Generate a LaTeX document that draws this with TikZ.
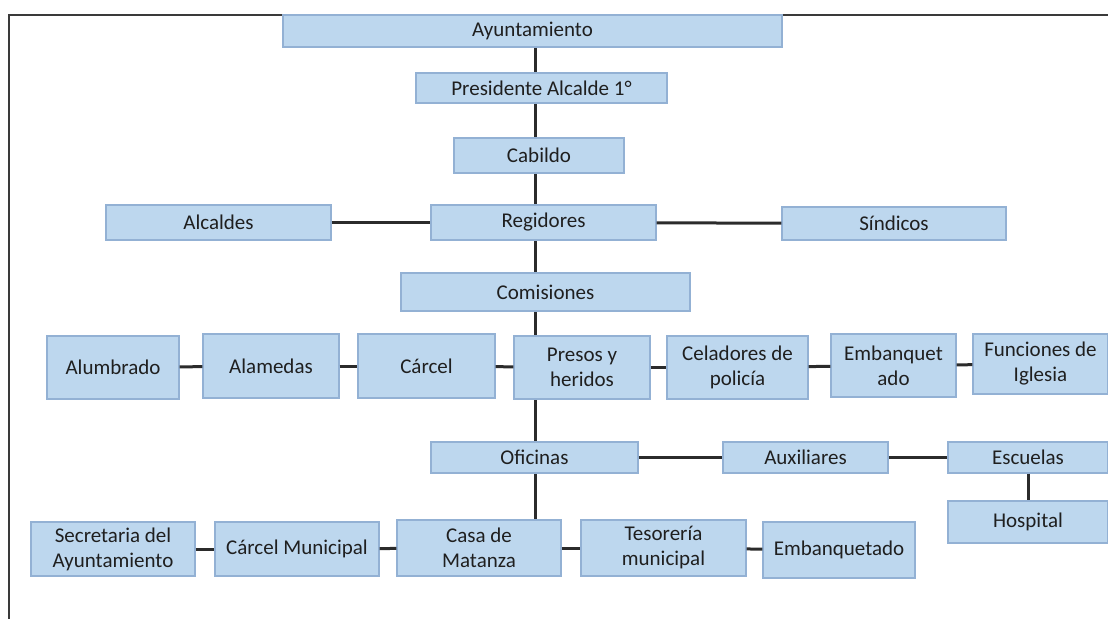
\documentclass[tikz,border=0pt]{standalone}
\usepackage{fontspec}
\setmainfont{Carlito}
\usetikzlibrary{positioning}
\usetikzlibrary{backgrounds}
\definecolor{boxfill}{HTML}{BDD7EE}
\definecolor{boxline}{HTML}{93B1D4}
\definecolor{linkgray}{HTML}{2B2B2B}
\definecolor{textgray}{HTML}{1F1F1F}
\definecolor{framegray}{HTML}{3A3A3A}

\begin{document}
\begin{tikzpicture}[x=1pt, y=-1pt,
			orgbox/.style = {
				draw=boxline, line width=1.2pt, fill=boxfill, text=textgray,
				inner sep=0pt, align=center,
				font=\fontsize{21}{25}\selectfont
			},
			link/.style = {draw=linkgray, line width=3pt}]
			\useasboundingbox (0,0) rectangle (1108,619);
			\draw [framegray, line width=2.5pt] (1108,15) -- (9,15) -- (9,619);
			\node (ayto) [orgbox, minimum width=499pt, minimum height=32pt] at (532.5,31) {Ayuntamiento};
			\node (pres) [orgbox, minimum width=251pt, minimum height=30pt] at (541.5,88) {Presidente Alcalde 1°};
			\node (cab) [orgbox, minimum width=170pt, minimum height=35pt] at (539,155.5) {Cabildo};
			\node (alc) [orgbox, minimum width=225pt, minimum height=35pt] at (218.5,222.5) {Alcaldes};
			\node (reg) [orgbox, minimum width=225pt, minimum height=35pt] at (543.5,222.5) {Regidores};
			\node (sin) [orgbox, minimum width=224pt, minimum height=33pt] at (894,223.5) {Síndicos};
			\node (com) [orgbox, minimum width=289pt, minimum height=38pt] at (545.5,292) {Comisiones};
			\node (alu) [orgbox, minimum width=132pt, minimum height=63pt] at (113,367.5) {Alumbrado};
			\node (ala) [orgbox, minimum width=136pt, minimum height=64pt] at (271,366) {Alamedas};
			\node (car) [orgbox, minimum width=137pt, minimum height=64pt] at (426.5,366) {Cárcel};
			\node (pre) [orgbox, minimum width=136pt, minimum height=63pt] at (582,367.5) {Presos y\\heridos};
			\node (cel) [orgbox, minimum width=141pt, minimum height=63pt] at (737.5,367.5) {Celadores de\\policía};
			\node (emb) [orgbox, minimum width=125pt, minimum height=63pt] at (893.5,365.5) {Embanquet\\ado};
			\node (fun) [orgbox, minimum width=135pt, minimum height=60pt] at (1040.5,364) {Funciones de\\Iglesia};
			\node (ofi) [orgbox, minimum width=207pt, minimum height=31pt] at (534.5,457.5) {Oficinas};
			\node (aux) [orgbox, minimum width=165pt, minimum height=31pt] at (805.5,457.5) {Auxiliares};
			\node (esc) [orgbox, minimum width=160pt, minimum height=31pt] at (1028,457.5) {Escuelas};
			\node (hos) [orgbox, minimum width=160pt, minimum height=42pt] at (1028,522) {Hospital};
			\node (sec) [orgbox, minimum width=164pt, minimum height=54pt] at (113,549) {Secretaria del\\Ayuntamiento};
			\node (cmu) [orgbox, minimum width=164pt, minimum height=54pt] at (297,549) {Cárcel Municipal};
			\node (cas) [orgbox, minimum width=164pt, minimum height=56pt] at (479,548) {Casa de\\Matanza};
			\node (tes) [orgbox, minimum width=165pt, minimum height=56pt] at (663.5,548) {Tesorería\\municipal};
			\node (emq) [orgbox, minimum width=152pt, minimum height=56pt] at (839,550) {Embanquetado};
			\coordinate (spine) at (535,0);
			\begin{scope}[on background layer]
			\path [link] (ayto.south -| spine) edge (cas.north -| spine);
			\end{scope}
			\path [link]
			(alc) edge (reg)
			(reg) edge (sin)
			(alu) edge (ala)
			(ala) edge (car)
			(car) edge (pre)
			(pre) edge (cel)
			(cel) edge (emb)
			(emb) edge (fun)
			(ofi) edge (aux)
			(aux) edge (esc)
			(esc) edge (hos)
			(sec) edge (cmu)
			(cmu) edge (cas)
			(cas) edge (tes)
			(tes) edge (emq);
		\end{tikzpicture}
\end{document}
